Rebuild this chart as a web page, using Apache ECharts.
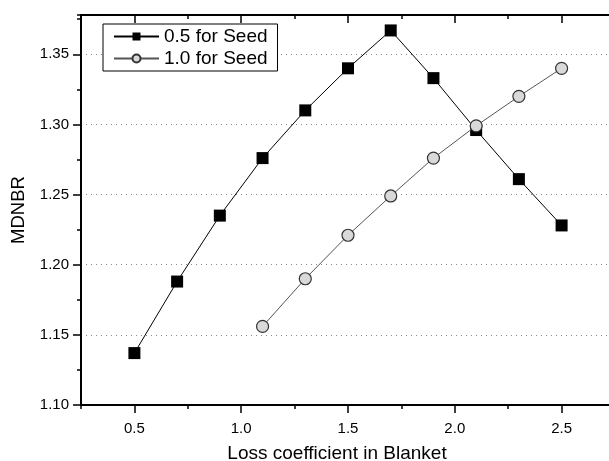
<!DOCTYPE html>
<html>
<head>
<meta charset="utf-8">
<script src="https://cdn.jsdelivr.net/npm/echarts@6/dist/echarts.min.js"></script>
<style>
  html, body { margin: 0; padding: 0; background: #fff; }
  #main { width: 609px; height: 461px; }
</style>
</head>
<body>
<div id="main"></div>
<script>
// values
const xSeed05 = [0.5, 0.7, 0.9, 1.1, 1.3, 1.5, 1.7, 1.9, 2.1, 2.3, 2.5];
const mdnbrSeed05 = [1.137, 1.188, 1.235, 1.276, 1.310, 1.340, 1.367, 1.333, 1.296, 1.261, 1.228];
const xSeed10 = [1.1, 1.3, 1.5, 1.7, 1.9, 2.1, 2.3, 2.5];
const mdnbrSeed10 = [1.156, 1.190, 1.221, 1.249, 1.276, 1.299, 1.320, 1.340];
const xTicks = [0.5, 1.0, 1.5, 2.0, 2.5];
const yTicks = [1.10, 1.15, 1.20, 1.25, 1.30, 1.35];

const font = 'Liberation Sans, Arial, sans-serif';
const pairs = (xs, ys) => xs.map((x, i) => [x, ys[i]]);

const myChart = echarts.init(document.getElementById('main'));

// main axis + a bare one just for minor ticks
const xBase = {
  type: 'value', min: 0.25, max: 2.75, interval: 0.25,
  splitLine: { show: false }
};
const yBase = {
  type: 'value', min: 1.10, max: 1.378, interval: 0.025,
  splitLine: { show: false }
};
const blackLine = { show: true, lineStyle: { color: '#000', width: 2 } };

const option = {
  animation: false,
  backgroundColor: '#fff',
  grid: { left: 81, right: -6, top: 15, bottom: 56, containLabel: false, outerBoundsMode: 'none' },
  legend: {
    orient: 'vertical',
    left: 103,
    top: 24,
    padding: [3, 10, 3, 10],
    itemGap: 3,
    itemWidth: 45,
    itemHeight: 10,
    backgroundColor: '#fff',
    borderColor: '#000',
    borderWidth: 1,
    borderRadius: 0,
    textStyle: { fontFamily: font, fontSize: 19, color: '#000' },
    data: ['0.5 for Seed', '1.0 for Seed']
  },
  xAxis: [
    Object.assign({}, xBase, {
      position: 'bottom',
      name: 'Loss coefficient in Blanket',
      nameLocation: 'middle',
      nameGap: 39,
      nameTextStyle: { fontFamily: font, fontSize: 19, color: '#000', padding: [0, 22, 0, 0] },
      axisLine: blackLine,
      axisTick: { show: true, length: 8, customValues: xTicks, lineStyle: { color: '#000', width: 1.5 } },
      axisLabel: { customValues: xTicks, margin: 16, fontFamily: font, fontSize: 15, color: '#000',
        formatter: v => v.toFixed(1) }
    }),
    Object.assign({}, xBase, {
      position: 'bottom',
      axisLine: { show: false },
      axisTick: { show: true, length: 4, lineStyle: { color: '#000', width: 1.5 } },
      axisLabel: { show: false }
    }),
    Object.assign({}, xBase, {
      position: 'top',
      axisLine: blackLine,
      axisTick: { show: true, inside: true, length: 8, customValues: xTicks, lineStyle: { color: '#000', width: 1.5 } },
      axisLabel: { show: false }
    }),
    Object.assign({}, xBase, {
      position: 'top',
      axisLine: { show: false },
      axisTick: { show: true, inside: true, length: 4, lineStyle: { color: '#000', width: 1.5 } },
      axisLabel: { show: false }
    })
  ],
  yAxis: [
    Object.assign({}, yBase, {
      position: 'left',
      interval: 0.05,
      name: 'MDNBR',
      nameLocation: 'middle',
      nameGap: 44,
      nameTextStyle: { fontFamily: font, fontSize: 18.5, color: '#000' },
      axisLine: blackLine,
      axisTick: { show: true, length: 8, customValues: yTicks, lineStyle: { color: '#000', width: 1.5 } },
      axisLabel: { customValues: yTicks, margin: 12, fontFamily: font, fontSize: 15, color: '#000',
        formatter: v => v.toFixed(2) },
      splitLine: { show: true, lineStyle: { color: '#888', width: 1, type: [1, 4] } }
    }),
    Object.assign({}, yBase, {
      position: 'left',
      axisLine: { show: false },
      axisTick: { show: true, length: 4, lineStyle: { color: '#000', width: 1.5 } },
      axisLabel: { show: false }
    })
  ],
  series: [
    {
      name: '0.5 for Seed',
      type: 'line',
      data: pairs(xSeed05, mdnbrSeed05),
      symbol: 'rect',
      symbolSize: 12,
      itemStyle: { color: '#000' },
      lineStyle: { color: '#000', width: 1 },
      z: 3
    },
    {
      name: '1.0 for Seed',
      type: 'line',
      data: pairs(xSeed10, mdnbrSeed10),
      symbol: 'circle',
      symbolSize: 12,
      itemStyle: { color: '#d9d9d9', borderColor: '#333', borderWidth: 1.2 },
      lineStyle: { color: '#555', width: 1 },
      z: 4
    }
  ]
};

myChart.setOption(option);
</script>
</body>
</html>
